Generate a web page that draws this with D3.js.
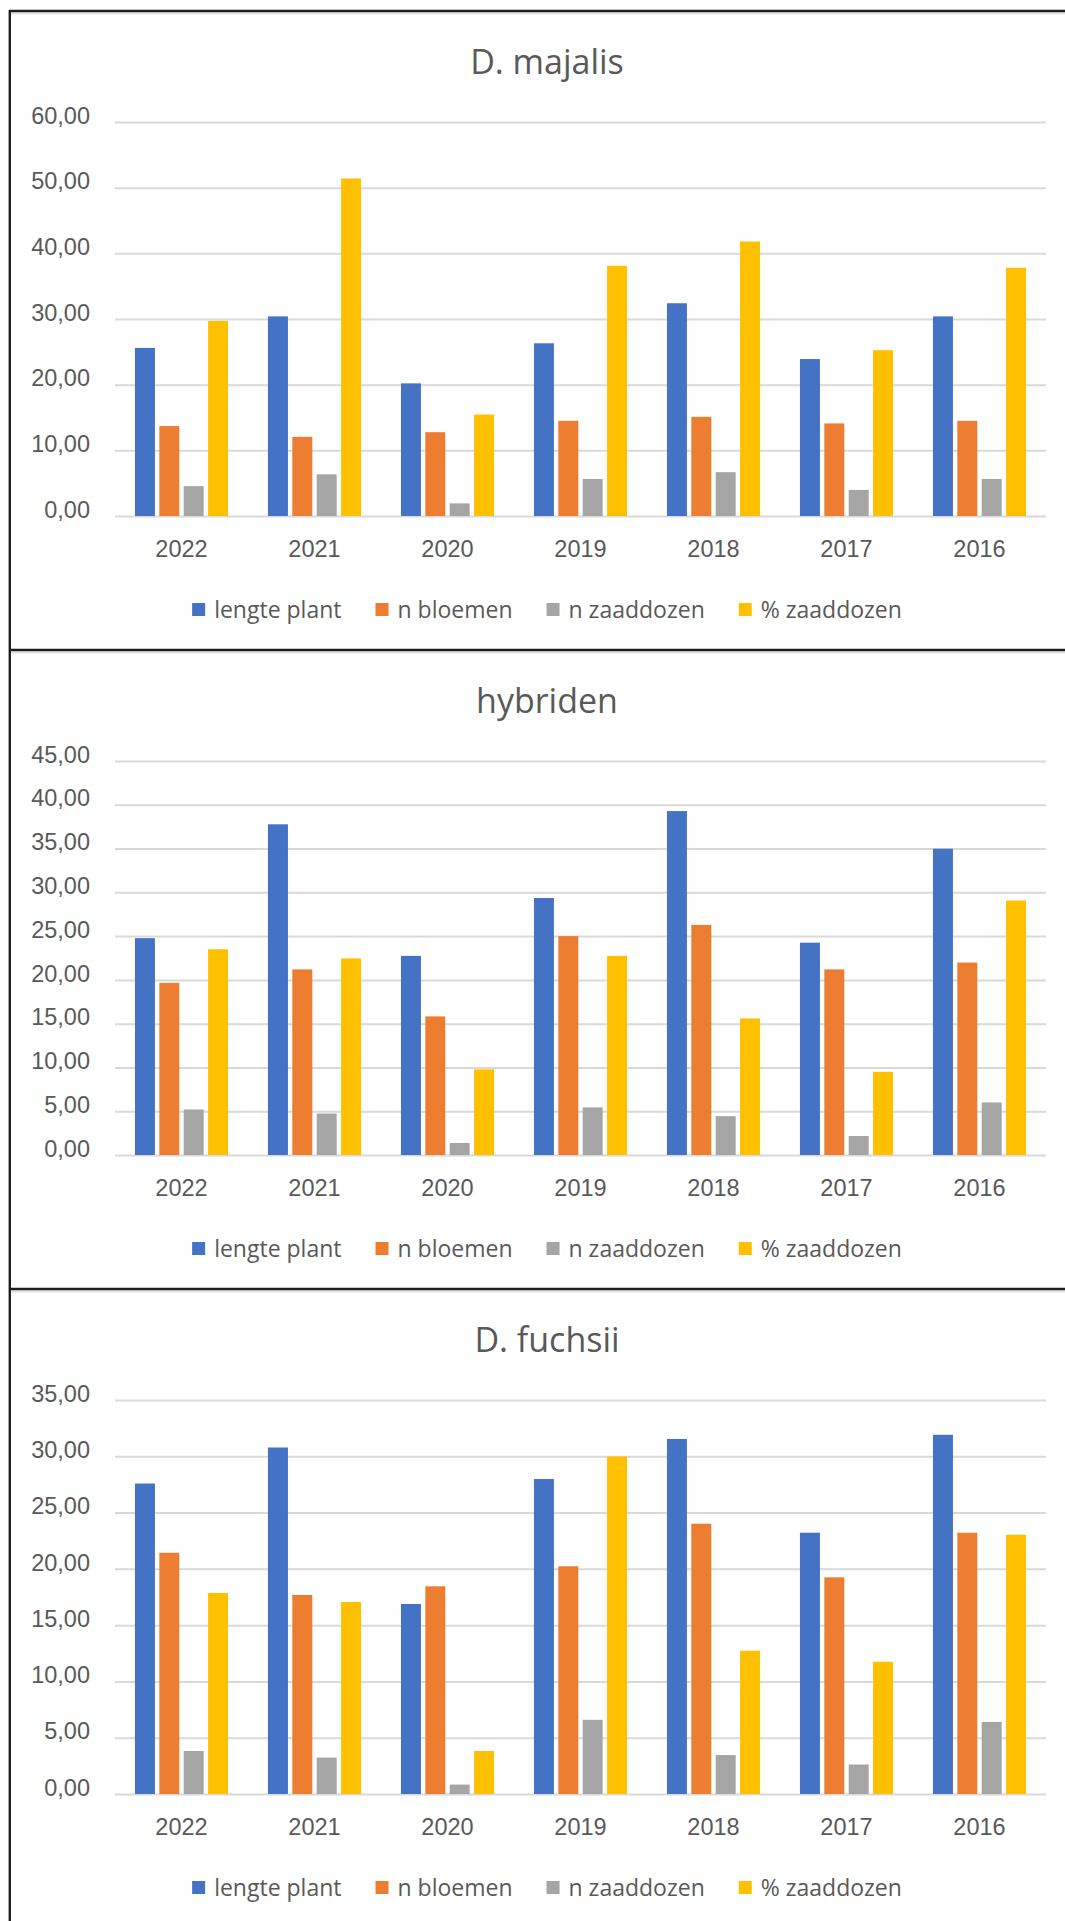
<!DOCTYPE html>
<html>
<head>
<meta charset="utf-8">
<script src="https://cdn.jsdelivr.net/npm/d3@7"></script>
<style>
  body { margin: 0; background: #fff; }
  svg { display: block; font-family: "Open Sans", sans-serif; }
</style>
</head>
<body>
<div id="chart"></div>
<script>
// categories and series
var years = ["2022", "2021", "2020", "2019", "2018", "2017", "2016"];
var seriesNames = ["lengte plant", "n bloemen", "n zaaddozen", "% zaaddozen"];
var colors = ["#4472C4", "#ED7D31", "#A5A5A5", "#FFC000"];

var titles = ["D. majalis", "hybriden", "D. fuchsii"];
var yMax = [60, 45, 35];
var yStep = [10, 5, 5];

// D. majalis
var majalisLengte    = [25.6, 30.4, 20.2, 26.3, 32.4, 23.9, 30.4];
var majalisBloemen   = [13.7, 12.05, 12.76, 14.5, 15.1, 14.1, 14.5];
var majalisZaaddozen = [4.55, 6.35, 1.92, 5.64, 6.67, 3.97, 5.64];
var majalisPct       = [29.7, 51.4, 15.45, 38.1, 41.8, 25.25, 37.8];

// hybriden
var hybLengte    = [24.77, 37.77, 22.74, 29.35, 39.28, 24.25, 34.98];
var hybBloemen   = [19.66, 21.2, 15.83, 25.0, 26.28, 21.2, 21.98];
var hybZaaddozen = [5.2, 4.73, 1.37, 5.44, 4.44, 2.17, 6.0];
var hybPct       = [23.5, 22.45, 9.78, 22.74, 15.6, 9.5, 29.07];

// D. fuchsii
var fuchsiiLengte    = [27.58, 30.78, 16.88, 27.98, 31.54, 23.21, 31.91];
var fuchsiiBloemen   = [21.43, 17.68, 18.45, 20.23, 24.01, 19.25, 23.21];
var fuchsiiZaaddozen = [3.82, 3.24, 0.84, 6.59, 3.46, 2.62, 6.4];
var fuchsiiPct       = [17.86, 17.06, 3.82, 29.98, 12.73, 11.75, 23.03];

var panelData = [
  [majalisLengte, majalisBloemen, majalisZaaddozen, majalisPct],
  [hybLengte, hybBloemen, hybZaaddozen, hybPct],
  [fuchsiiLengte, fuchsiiBloemen, fuchsiiZaaddozen, fuchsiiPct]
];

var W = 1065, H = 1921;
var panelTop = 11, panelHeight = 639;
var plot = {left: 115, right: 1046, top: 111, bottom: 505};
var centerX = 547;
var textColor = "#595959";
var gridColor = "#d9d9d9";

var nl = d3.formatLocale({decimal: ",", thousands: ".", grouping: [3], currency: ["€", ""]});
var fmt = nl.format(".2f");

var svg = d3.select("#chart").append("svg")
  .attr("width", W)
  .attr("height", H);

svg.append("rect").attr("width", W).attr("height", H).attr("fill", "#fff");

var x0 = d3.scaleBand()
  .domain(years)
  .range([plot.left, plot.right])
  .paddingInner(0.3)
  .paddingOuter(0.15);

var x1 = d3.scaleBand()
  .domain(d3.range(seriesNames.length))
  .range([0, x0.bandwidth()])
  .paddingInner(0.18);

for (var p = 0; p < titles.length; p++) {
  var g = svg.append("g").attr("transform", "translate(0," + (panelTop + p * panelHeight) + ")");

  var y = d3.scaleLinear()
    .domain([0, yMax[p]])
    .range([plot.bottom, plot.top]);

  var ticks = d3.range(0, yMax[p] + 0.001, yStep[p]);

  // gridlines
  var yAxis = d3.axisLeft(y)
    .tickValues(ticks)
    .tickSize(-(plot.right - plot.left))
    .tickPadding(25)
    .tickFormat(fmt);

  var ga = g.append("g")
    .attr("transform", "translate(" + plot.left + ",0)")
    .call(yAxis);
  ga.select(".domain").remove();
  ga.selectAll(".tick line").attr("stroke", gridColor).attr("stroke-width", 2);
  ga.selectAll(".tick text")
    .attr("fill", textColor)
    .style("font-size", "23.5px")
    .attr("dy", "0.05em");

  // bars
  var groups = g.selectAll(".year")
    .data(years)
    .enter().append("g")
    .attr("transform", function(d) { return "translate(" + x0(d) + ",0)"; });

  var series = panelData[p];
  groups.selectAll("rect")
    .data(function(d, i) { return series.map(function(s, k) { return {k: k, v: s[i]}; }); })
    .enter().append("rect")
    .attr("x", function(d) { return x1(d.k); })
    .attr("width", x1.bandwidth())
    .attr("y", function(d) { return y(d.v); })
    .attr("height", function(d) { return y(0) - y(d.v); })
    .attr("fill", function(d) { return colors[d.k]; });

  // x axis labels
  var xAxis = d3.axisBottom(x0).tickSize(0).tickPadding(0);
  var gx = g.append("g")
    .attr("transform", "translate(0," + 538 + ")")
    .call(xAxis);
  gx.select(".domain").remove();
  gx.selectAll(".tick text")
    .attr("fill", textColor)
    .attr("dy", "0.35em")
    .style("font-size", "23.5px");

  // title
  g.append("text")
    .attr("x", centerX)
    .attr("y", 51)
    .attr("text-anchor", "middle")
    .attr("dy", "0.35em")
    .attr("fill", textColor)
    .style("font-size", "34px")
    .text(titles[p]);

  // legend
  var lg = g.append("g").attr("transform", "translate(0,599)");
  var items = lg.selectAll("g")
    .data(seriesNames)
    .enter().append("g");
  items.append("rect")
    .attr("width", 13).attr("height", 13)
    .attr("y", -7)
    .attr("fill", function(d, i) { return colors[i]; });
  items.append("text")
    .attr("x", 22)
    .attr("dy", "0.35em")
    .attr("fill", textColor)
    .style("font-size", "23px")
    .text(function(d) { return d; });

  var widths = [];
  items.select("text").each(function() { widths.push(22 + this.getComputedTextLength()); });
  var gap = 34;
  var total = d3.sum(widths) + gap * (widths.length - 1);
  var cx = centerX - total / 2;
  items.attr("transform", function(d, i) {
    var pos = cx;
    cx += widths[i] + gap;
    return "translate(" + pos + ",0)";
  });
}

// panel frames
var frame = svg.append("g");
for (var b = 0; b < titles.length; b++) {
  var yy = panelTop + b * panelHeight;
  frame.append("line")
    .attr("x1", 9).attr("x2", W)
    .attr("y1", yy + 2.5).attr("y2", yy + 2.5)
    .attr("stroke", "#e3e3e3").attr("stroke-width", 2);
  frame.append("line")
    .attr("x1", 9).attr("x2", W)
    .attr("y1", yy).attr("y2", yy)
    .attr("stroke", "#1e1e1e").attr("stroke-width", 2.4);
}
frame.append("line")
  .attr("x1", 9.8).attr("x2", 9.8)
  .attr("y1", panelTop - 1).attr("y2", H)
  .attr("stroke", "#1e1e1e").attr("stroke-width", 2.4);
</script>
</body>
</html>
